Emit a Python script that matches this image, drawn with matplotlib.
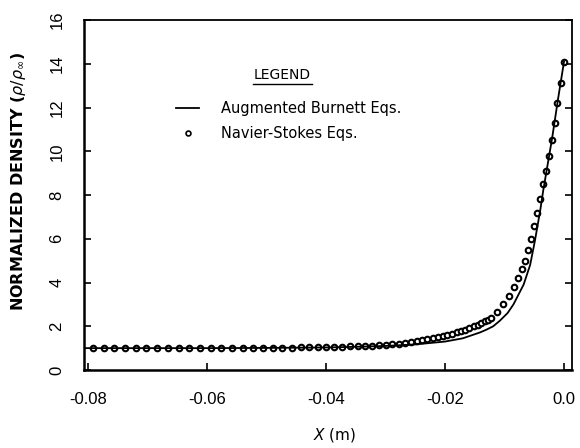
import matplotlib
matplotlib.use("Agg")
import matplotlib.pyplot as plt
from matplotlib.lines import Line2D

plt.rcParams['font.family'] = ['Liberation Sans', 'DejaVu Sans']

# Augmented Burnett solution (solid line)
burnett_x = [-0.0807, -0.06, -0.05, -0.04, -0.035, -0.030, -0.025, -0.020,
             -0.017, -0.0141, -0.0130, -0.0119, -0.0108, -0.0095, -0.0085,
             -0.0068, -0.0057, -0.0049, -0.0040, -0.0035, -0.0030, -0.0025,
             -0.0020, -0.0010, 0.0]
burnett_rho = [1.0, 1.0, 1.01, 1.03, 1.06, 1.10, 1.17, 1.30,
               1.45, 1.72, 1.85, 2.0, 2.25, 2.6, 3.0,
               3.9, 4.8, 5.9, 7.3, 8.2, 9.0, 9.8,
               10.6, 12.4, 14.1]

# Navier-Stokes solution (circles)
ns_x = [-0.0792, -0.0774, -0.0756, -0.0738, -0.0720, -0.0702, -0.0684, -0.0666,
        -0.0648, -0.0630, -0.0612, -0.0594, -0.0576, -0.0558, -0.0540, -0.0523,
        -0.0506, -0.0490, -0.0474, -0.0458, -0.0443, -0.0428, -0.0414, -0.0400,
        -0.0386, -0.0373, -0.0360, -0.0347, -0.0335, -0.0323, -0.0311, -0.0300,
        -0.0289, -0.0278, -0.0268, -0.0258, -0.0248, -0.0239, -0.0230, -0.0221,
        -0.0212, -0.0204, -0.0196, -0.0188, -0.0180, -0.0173, -0.0166, -0.0159,
        -0.0152, -0.0145, -0.0139, -0.0133, -0.0127, -0.0122, -0.0113, -0.0103,
        -0.0092, -0.0084, -0.0077, -0.0071, -0.0065, -0.0060, -0.0055, -0.0050,
        -0.0046, -0.0040, -0.0035, -0.0030, -0.0025, -0.0021, -0.0015, -0.0011,
        -0.0005, 0.0]
ns_rho = [1.0, 1.0, 1.0, 1.0, 1.0, 1.0, 1.0, 1.0,
          1.0, 1.0, 1.0, 1.0, 1.0, 1.0, 1.0, 1.0,
          1.01, 1.01, 1.02, 1.02, 1.03, 1.03, 1.04, 1.05,
          1.06, 1.07, 1.08, 1.09, 1.10, 1.12, 1.13, 1.15,
          1.17, 1.20, 1.23, 1.27, 1.31, 1.35, 1.40, 1.45,
          1.50, 1.55, 1.60, 1.66, 1.72, 1.78, 1.85, 1.92,
          2.00, 2.08, 2.15, 2.22, 2.30, 2.38, 2.65, 3.0,
          3.4, 3.8, 4.2, 4.6, 5.0, 5.5, 6.0, 6.6,
          7.2, 7.8, 8.5, 9.1, 9.8, 10.5, 11.3, 12.2,
          13.1, 14.06]

xticks = [-0.08, -0.06, -0.04, -0.02, 0.0]
xticklabels = ['-0.08', '-0.06', '-0.04', '-0.02', '0.0']
yticks = [0, 2, 4, 6, 8, 10, 12, 14, 16]

fig = plt.figure(figsize=(5.8, 4.48), dpi=100)
ax = fig.add_axes([84 / 580, 1 - 370 / 448, 488 / 580, 350 / 448])

ax.plot(ns_x, ns_rho, 'o', ms=4.0, mfc='white', mec='black', mew=1.5, zorder=2)
ax.plot(burnett_x, burnett_rho, '-', color='black', lw=1.3, zorder=3)

ax.set_xlim(-0.0807, 0.00134)
ax.set_ylim(0, 16)

ax.set_xticks(xticks)
ax.set_xticklabels(xticklabels)
ax.set_yticks(yticks)
ax.set_yticklabels([str(v) for v in yticks], rotation=90, va='center')
ax.tick_params(direction='in', length=5, width=1.2, labelsize=12, pad=16)
ax.tick_params(axis='y', pad=14, right=True)

for side, lw in [('left', 1.8), ('bottom', 1.8), ('top', 1.3), ('right', 1.3)]:
    ax.spines[side].set_linewidth(lw)

ax.set_ylabel(r'NORMALIZED DENSITY ($\rho/\rho_\infty$)', fontsize=11.5,
              fontweight='bold', family=['DejaVu Sans'], va='center')
ax.yaxis.set_label_coords(-(84 - 19) / 488, (370 - 182) / 350)
ax.set_xlabel(r'$X$ (m)', fontsize=11, family=['DejaVu Sans'], va='center')
ax.xaxis.set_label_coords((335 - 84) / 488, -(435 - 370) / 350)

# hand-drawn legend block
tr = ax.transAxes
def to_ax(px, py):
    return (px - 84) / 488, (370 - py) / 350

lx, ly = to_ax(282, 75)
ax.text(lx, ly, 'LEGEND', transform=tr, ha='center', va='center',
        fontsize=10, family=['DejaVu Sans'])
u0, uy = to_ax(253, 84)
u1, _ = to_ax(312, 84)
ax.add_line(Line2D([u0, u1], [uy, uy], transform=tr, color='black', lw=1.0))

s0, sy = to_ax(176, 108)
s1, _ = to_ax(199, 108)
ax.add_line(Line2D([s0, s1], [sy, sy], transform=tr, color='black', lw=1.3))
tx, _ = to_ax(221, 108)
ax.text(tx, sy, 'Augmented Burnett Eqs.', transform=tr, va='center',
        fontsize=10.5, family=['DejaVu Sans'])

cx, cy = to_ax(188, 133)
ax.plot([cx], [cy], 'o', transform=tr, ms=3.5, mfc='white', mec='black', mew=1.2)
ax.text(tx, cy, 'Navier-Stokes Eqs.', transform=tr, va='center',
        fontsize=10.5, family=['DejaVu Sans'])

fig.savefig('out.png', dpi=100)
